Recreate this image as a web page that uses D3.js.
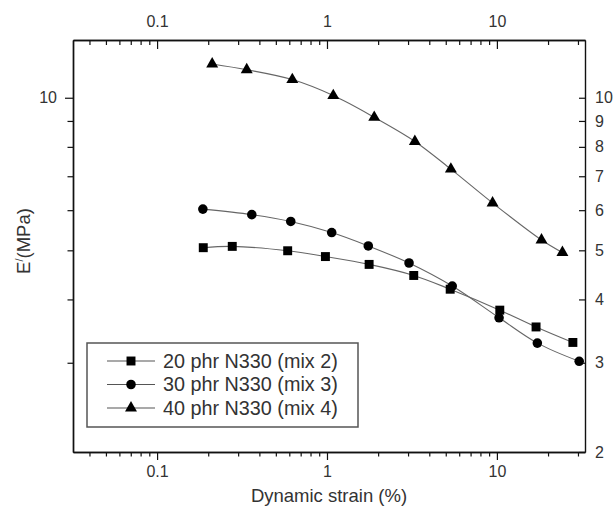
<!DOCTYPE html>
<html>
<head>
<meta charset="utf-8">
<script src="https://cdn.jsdelivr.net/npm/d3@7"></script>
<style>
  body { margin: 0; background: #fff; }
  svg { display: block; font-family: "Liberation Sans", Arial, sans-serif; }
  .axis text { fill: #333; font-size: 16px; }
  .axis path, .axis line { stroke: #111; }
</style>
</head>
<body>
<svg id="chart" width="613" height="513"></svg>
<script>
// ---- data ----
const seriesNames = ["20 phr N330 (mix 2)", "30 phr N330 (mix 3)", "40 phr N330 (mix 4)"];
const strain20 = [0.187, 0.277, 0.587, 0.979, 1.77, 3.24, 5.31, 10.4, 17.0, 28.0];
const modulus20 = [5.06, 5.09, 4.99, 4.86, 4.69, 4.46, 4.19, 3.81, 3.53, 3.29];
const strain30 = [0.186, 0.361, 0.612, 1.066, 1.75, 3.04, 5.46, 10.3, 17.3, 30.5];
const modulus30 = [6.03, 5.88, 5.70, 5.42, 5.10, 4.72, 4.25, 3.68, 3.28, 3.02];
const strain40 = [0.211, 0.337, 0.625, 1.089, 1.897, 3.29, 5.36, 9.43, 18.3, 24.3];
const modulus40 = [11.66, 11.36, 10.86, 10.10, 9.15, 8.20, 7.23, 6.20, 5.24, 4.95];
const xMajorTicks = [0.1, 1, 10];
const xMajorLabels = ["0.1", "1", "10"];
const xMinorTicks = [0.04, 0.05, 0.06, 0.07, 0.08, 0.09, 0.2, 0.3, 0.4, 0.5, 0.6, 0.7, 0.8, 0.9,
                     2, 3, 4, 5, 6, 7, 8, 9, 20, 30];
const yLeftMajorTicks = [10];
const yLeftMinorTicks = [3, 4, 5, 6, 7, 8, 9];
const yRightTicks = [2, 3, 4, 5, 6, 7, 8, 9, 10];
const xTitle = "Dynamic strain (%)";

// ---- layout ----
const svg = d3.select("#chart");
const L = 73, R = 585, T = 40, B = 452;
const x = d3.scaleLog().domain([0.032, 33]).range([L, R]);
const y = d3.scaleLog().domain([2, 13]).range([B, T]);

const fmtX = d => xMajorLabels[xMajorTicks.indexOf(d)];

// bottom axis (outward)
svg.append("g").attr("class", "axis").attr("transform", `translate(0,${B})`)
  .call(d3.axisBottom(x).tickValues(xMinorTicks).tickSize(4.5).tickSizeOuter(0).tickFormat(""));
svg.append("g").attr("class", "axis").attr("transform", `translate(0,${B})`)
  .call(d3.axisBottom(x).tickValues(xMajorTicks).tickSize(8).tickSizeOuter(0).tickPadding(6).tickFormat(fmtX));
// top axis (inward)
svg.append("g").attr("class", "axis").attr("transform", `translate(0,${T})`)
  .call(d3.axisTop(x).tickValues(xMinorTicks).tickSize(-5).tickSizeOuter(0).tickFormat(""));
svg.append("g").attr("class", "axis").attr("transform", `translate(0,${T})`)
  .call(d3.axisTop(x).tickValues(xMajorTicks).tickSize(-9).tickSizeOuter(0).tickPadding(13).tickFormat(fmtX));
// left axis (outward)
svg.append("g").attr("class", "axis").attr("transform", `translate(${L},0)`)
  .call(d3.axisLeft(y).tickValues(yLeftMinorTicks).tickSize(5.5).tickSizeOuter(0).tickFormat(""));
svg.append("g").attr("class", "axis").attr("transform", `translate(${L},0)`)
  .call(d3.axisLeft(y).tickValues(yLeftMajorTicks).tickSize(8).tickSizeOuter(0).tickPadding(8).tickFormat(d3.format("d")));
// right axis (inward)
svg.append("g").attr("class", "axis").attr("transform", `translate(${R},0)`)
  .call(d3.axisRight(y).tickValues(yRightTicks).tickSize(-6).tickSizeOuter(0).tickPadding(10).tickFormat(d3.format("d")));

svg.selectAll(".axis path.domain").attr("stroke-width", 1.4);
svg.selectAll(".axis line").attr("stroke-width", 1.2);

// titles
svg.append("text").attr("x", (L + R) / 2).attr("y", 502).attr("text-anchor", "middle")
  .attr("fill", "#333").style("font-size", "18.5px").text(xTitle);
const yt = svg.append("text").attr("transform", "translate(30,241) rotate(-90)")
  .attr("text-anchor", "middle").attr("fill", "#333").style("font-size", "18.5px");
yt.append("tspan").text("E");
yt.append("tspan").attr("dy", -7).style("font-size", "11px").text("/");
yt.append("tspan").attr("dy", 7).text("(MPa)");

// series
const series = [
  { name: seriesNames[0], xs: strain20, ys: modulus20, sym: d3.symbolSquare, size: 80 },
  { name: seriesNames[1], xs: strain30, ys: modulus30, sym: d3.symbolCircle, size: 72 },
  { name: seriesNames[2], xs: strain40, ys: modulus40, sym: d3.symbolTriangle, size: 62 }
];
const line = d3.line().x(d => x(d[0])).y(d => y(d[1])).curve(d3.curveCatmullRom.alpha(0.5));
series.forEach(s => {
  const pts = s.xs.map((v, i) => [v, s.ys[i]]);
  svg.append("path").datum(pts).attr("d", line).attr("fill", "none")
    .attr("stroke", "#666").attr("stroke-width", 1.1);
  svg.append("g").selectAll("path").data(pts).join("path")
    .attr("transform", d => `translate(${x(d[0])},${y(d[1])})`)
    .attr("d", d3.symbol().type(s.sym).size(s.size)).attr("fill", "#000");
});

// legend
const lg = svg.append("g");
lg.append("rect").attr("x", 87).attr("y", 343).attr("width", 271).attr("height", 84)
  .attr("fill", "#fff").attr("stroke", "#555").attr("stroke-width", 1.5);
series.forEach((s, i) => {
  const cy = 361 + i * 23.5;
  lg.append("line").attr("x1", 107).attr("x2", 155).attr("y1", cy).attr("y2", cy)
    .attr("stroke", "#555").attr("stroke-width", 1.1);
  lg.append("path").attr("transform", `translate(131,${cy})`)
    .attr("d", d3.symbol().type(s.sym).size(s.size)).attr("fill", "#000");
  lg.append("text").attr("x", 163).attr("y", cy).attr("dy", "0.35em")
    .attr("fill", "#333").style("font-size", "19.8px").text(s.name);
});
</script>
</body>
</html>
